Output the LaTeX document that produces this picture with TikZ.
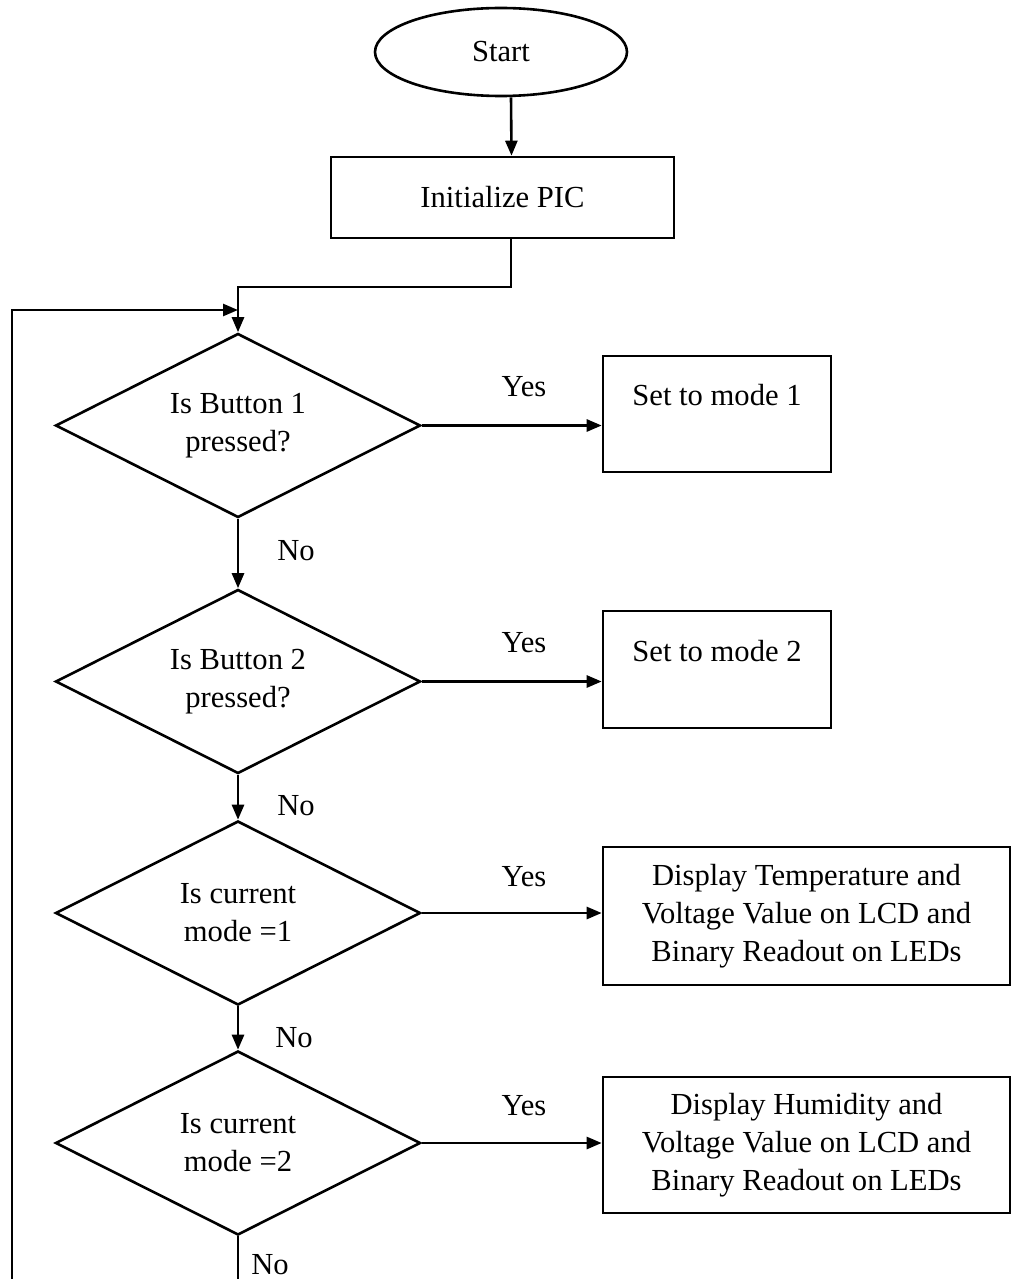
\documentclass[tikz,border=0pt]{standalone}
\usepackage{fontspec}
\setmainfont{Liberation Serif}
\usetikzlibrary{shapes.geometric,arrows.meta}
\begin{document}
\begin{tikzpicture}[x=0.5pt,y=-0.5pt,
  every node/.style={font=\fontsize{15.3}{19}\selectfont},
  base/.style={draw=black,line width=1.3pt,inner sep=0pt,align=center},
  term/.style={base,ellipse,minimum width=126pt,minimum height=44pt},
  procbox/.style={base,rectangle},
  decision/.style={base,diamond,aspect=2,minimum width=182.5pt,minimum height=92pt},
  arr/.style={line width=1.3pt,-{Triangle[length=7.5pt,width=6pt]}},
  plain/.style={line width=1.3pt},
  lbl/.style={inner sep=0pt}]
\useasboundingbox (0,0) rectangle (1013,1279);

\node[term] (start) at (501,52) {Start};
\node[procbox,minimum width=171.5pt,minimum height=40.5pt] (init) at (502.5,197.5) {Initialize PIC};

\node[decision] (d1) at (238,425.5) {Is Button 1\\pressed?};
\node[decision] (d2) at (238,681.5) {Is Button 2\\pressed?};
\node[decision] (d3) at (238,913) {Is current\\mode =1};
\node[decision] (d4) at (238,1143) {Is current\\mode =2};

\node[procbox,minimum width=114pt,minimum height=58pt] (m1) at (717,414) {Set to mode 1\\\mbox{}};
\node[procbox,minimum width=114pt,minimum height=58.5pt] (m2) at (717,669.5) {Set to mode 2\\\mbox{}};
\node[procbox,minimum width=203.5pt,minimum height=69pt] (p3) at (806.5,916) {Display Temperature and\\Voltage Value on LCD and\\Binary Readout on LEDs};
\node[procbox,minimum width=203.5pt,minimum height=68pt] (p4) at (806.5,1145) {Display Humidity and\\Voltage Value on LCD and\\Binary Readout on LEDs};

\coordinate (bend) at (511,287);
\coordinate (loopTop) at (12,310);
\coordinate (loopBot) at (12,1279);
\coordinate (exitBot) at (238,1279);

\draw[arr] ([xshift=5pt]start.south) -- ([xshift=4.5pt]init.north);
\draw[arr] ([xshift=4.25pt]init.south) -- (bend) -| (d1.north);
\draw[arr] (loopBot) -- (loopTop) -- (loopTop -| d1.north);

\draw[arr] (d1.east) -- (d1.east -| m1.west);
\draw[arr] (d2.east) -- (d2.east -| m2.west);
\draw[arr] (d3.east) -- (d3.east -| p3.west);
\draw[arr] (d4.east) -- (d4.east -| p4.west);

\draw[arr] (d1.south) -- (d2.north);
\draw[arr] (d2.south) -- (d3.north);
\draw[arr] (d3.south) -- (d4.north);
\draw[plain] (d4.south) -- (exitBot);

\node[lbl] (y1) at (524,387) {Yes};
\node[lbl] (y2) at (524,643) {Yes};
\node[lbl] (y3) at (524,877) {Yes};
\node[lbl] (y4) at (524,1106) {Yes};

\node[lbl] (n1) at (296,551) {No};
\node[lbl] (n2) at (296,806) {No};
\node[lbl] (n3) at (294,1038) {No};
\node[lbl] (n4) at (270,1265) {No};
\end{tikzpicture}
\end{document}
